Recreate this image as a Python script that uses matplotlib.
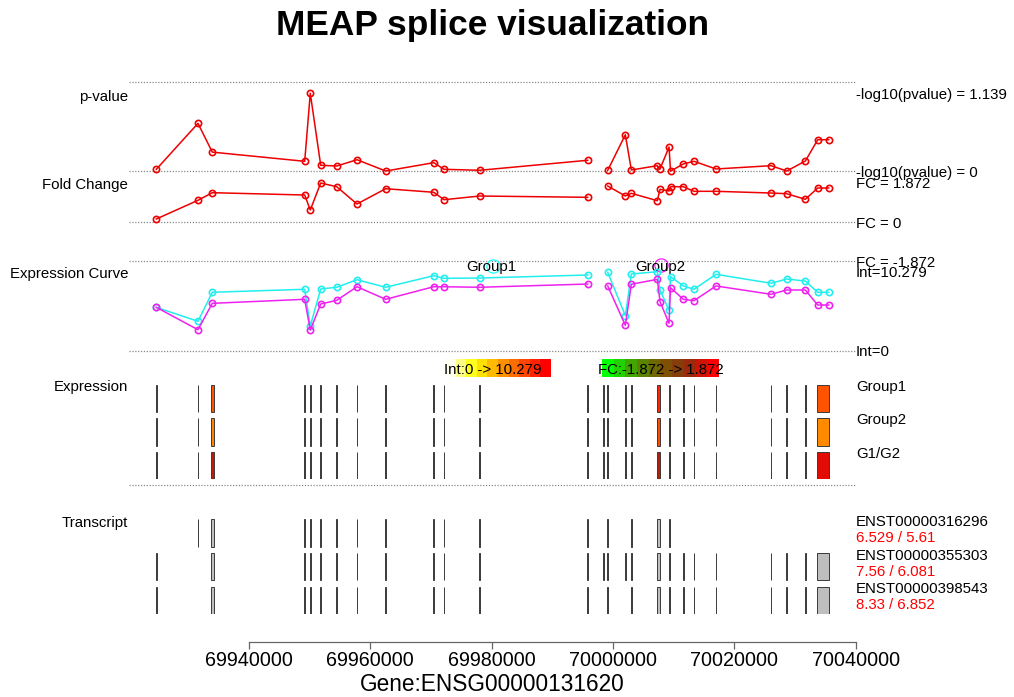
import numpy as np
import matplotlib
matplotlib.use("Agg")
import matplotlib.pyplot as plt
from matplotlib.colors import LinearSegmentedColormap, Normalize
from matplotlib.patches import Rectangle

plt.rcParams['font.family'] = ['Liberation Sans', 'DejaVu Sans']

nan = np.nan

# probe positions (bp) and per-probe values
probe_pos = [69924720, 69931590, 69933950, 69949180, 69950100, 69951820, 69954460,
             69957800, 69962530, 69970450, 69972140, 69978030, 69995830, 69998470,
             69999130, 70002030, 70003020, 70007300, 70007750, 70009230, 70009480,
             70011590, 70013350, 70016980, 70026050, 70028630, 70031700, 70033740,
             70035560]
pval = [0.029, 0.70, 0.28, 0.146, 1.139, 0.088, 0.077, 0.169, 0.004, 0.126, 0.029,
        0.015, 0.161, nan, 0.015, 0.534, 0.019, 0.082, 0.034, 0.355, 0.002, 0.107,
        0.146, 0.034, 0.082, 0.004, 0.150, 0.461, 0.461]
fc = [0.157, 1.048, 1.41, 1.30, 0.586, 1.872, 1.695, 0.871, 1.60, 1.43, 1.076, 1.252,
      1.19, nan, 1.729, 1.252, 1.381, 1.029, 1.571, 1.49, 1.695, 1.695, 1.476, 1.476,
      1.395, 1.362, 1.095, 1.633, 1.633]
expr_g1 = [5.66, 3.85, 7.61, 8.00, 3.24, 8.04, 8.26, 9.24, 8.26, 9.76, 9.42, 9.46,
           9.85, nan, 10.20, 4.58, 9.98, 10.279, 7.91, 5.28, 9.63, 8.43, 8.00, 9.94,
           8.78, 9.33, 9.07, 7.61, 7.61]
expr_g2 = [5.66, 2.76, 6.18, 6.70, 2.72, 6.09, 6.57, 8.33, 6.70, 8.33, 8.33, 8.26,
           8.68, nan, 8.43, 3.33, 8.65, 9.29, 6.39, 3.59, 8.20, 6.70, 6.52, 8.43,
           7.35, 7.91, 7.91, 5.96, 5.96]

# exons
exon_start = [69924650, 69931520, 69933750, 69949110, 69950100, 69951750, 69954390,
              69957730, 69962460, 69970380, 69972070, 69977960, 69995760, 69998400,
              69999030, 70001960, 70002950, 70007250, 70009260, 70011520, 70013280,
              70016910, 70025980, 70028560, 70031630, 70033700]
exon_end = [69924790, 69931660, 69934150, 69949250, 69950240, 69951890, 69954530,
            69957870, 69962600, 69970520, 69972210, 69978100, 69995900, 69998540,
            69999170, 70002100, 70003090, 70007800, 70009450, 70011660, 70013420,
            70017050, 70026120, 70028700, 70031770, 70035600]
exon_g1 = [5.66, 3.85, 7.61, 8.00, 3.24, 8.04, 8.26, 9.24, 8.26, 9.76, 9.42, 9.46,
           9.85, nan, 10.20, 4.58, 9.98, 9.10, 7.45, 8.43, 8.00, 9.94, 8.78, 9.33,
           9.07, 7.61]
exon_g2 = [5.66, 2.76, 6.18, 6.70, 2.72, 6.09, 6.57, 8.33, 6.70, 8.33, 8.33, 8.26,
           8.68, nan, 8.43, 3.33, 8.65, 7.84, 5.90, 6.70, 6.52, 8.43, 7.35, 7.91,
           7.91, 5.96]
exon_fc = [0.16, 1.05, 1.41, 1.30, 0.59, 1.87, 1.70, 0.87, 1.60, 1.43, 1.08, 1.25,
           1.19, nan, 1.73, 1.25, 1.38, 1.30, 1.59, 1.70, 1.48, 1.48, 1.40, 1.36,
           1.10, 1.63]

# transcripts: exon indices (0-based) and group expression
transcripts = ["ENST00000316296", "ENST00000355303", "ENST00000398543"]
tx_exons = [
    [1, 2, 3, 4, 5, 6, 7, 8, 9, 10, 11, 12, 14, 16, 17, 18],
    [0, 2, 3, 4, 5, 6, 7, 8, 9, 10, 11, 12, 13, 14, 15, 16, 17, 18, 19, 20, 21, 22, 23, 24, 25],
    [0, 2, 3, 4, 5, 6, 7, 8, 9, 10, 11, 12, 14, 16, 17, 18, 19, 20, 21, 22, 23, 24, 25],
]
tx_g1 = ["6.529", "7.56", "8.33"]
tx_g2 = ["5.61", "6.081", "6.852"]

group_names = ["Group1", "Group2", "G1/G2"]
xticks = [69940000, 69960000, 69980000, 70000000, 70020000, 70040000]
gene = "ENSG00000131620"

W, H = 1014, 697
fig = plt.figure(figsize=(W / 100, H / 100), dpi=100)

# 69940000 sits at x=249 px, 70040000 at x=855.7 px
bp_px = 100000 / 606.7
X0 = 69940000 - 249 * bp_px
X1 = X0 + W * bp_px
XL = 69940000 - 120 * bp_px  # left end of the dotted separators
XR = 70040000

def px(g):
    return (g - X0) / bp_px

# overlay in pixel coordinates for labels and layout
ov = fig.add_axes([0, 0, 1, 1])
ov.axis('off')

def panel(y_top, y_bot, v_top, v_bot):
    ax = fig.add_axes([0, 1 - y_bot / H, 1, (y_bot - y_top) / H])
    ax.set_xlim(X0, X1)
    ax.set_ylim(v_bot, v_top)
    ax.axis('off')
    return ax

fs = 10.8
VA = 'center_baseline'
sep_kw = dict(color='#888888', lw=0.9, linestyle=(0, (1, 1.3)))

# separators
for y in [82, 171.3, 222.3, 261.3, 351, 485]:
    ov.plot([px(XL), px(XR)], [y, y], **sep_kw)

ov.text(493, 25, "MEAP splice visualization", ha='center', va='center',
        fontsize=25.4, fontweight='bold')
for lab, y in [("p-value", 95), ("Fold Change", 184), ("Expression Curve", 272.7),
               ("Expression", 386), ("Transcript", 521)]:
    ov.text(128, y, lab, ha='right', va=VA, fontsize=fs)

# colour scales
int_cmap = LinearSegmentedColormap.from_list(
    'int', ['#FFFFF0', '#FFFF00', '#FFA500', '#FF5000', '#FF0000'])
fc_cmap = LinearSegmentedColormap.from_list(
    'fc', ['#00FF00', '#4C9A00', '#7A5A00', '#8B3010', '#FF0000'])
int_cmap.set_bad('#BEBEBE')
fc_cmap.set_bad('#BEBEBE')
imax = np.nanmax(expr_g1 + expr_g2)
fmax = np.nanmax(np.abs(fc))
int_norm = Normalize(0, imax)
fc_norm = Normalize(-fmax, fmax)

steps = np.linspace(0, 1, 10)[None, :]
ov.imshow(steps, cmap=int_cmap, extent=[445, 551, 377, 359], aspect='auto')
ov.imshow(steps, cmap=fc_cmap, extent=[602, 719, 377, 359], aspect='auto')
ov.text(444, 368.5, f"Int:0 -> {imax:.3f}", ha='left', va=VA, fontsize=fs)
ov.text(597.5, 368.5, f"FC:{-fmax:.3f} -> {fmax:.3f}", ha='left', va=VA, fontsize=fs)

# group legend
ov.plot([492.7], [265.7], 'o', ms=9.5, mfc='none', mec='cyan', mew=0.8)
ov.text(491.7, 266, "Group1", ha='center', va=VA, fontsize=fs)
ov.plot([660.7], [265.2], 'o', ms=9.5, mfc='none', mec='magenta', mew=0.8)
ov.text(660, 266, "Group2", ha='center', va=VA, fontsize=fs)

ov.text(491.8, 682, "Gene:" + gene, ha='center', va=VA, fontsize=16.3)
ov.set_xlim(0, W)
ov.set_ylim(H, 0)

line_kw = dict(lw=1.1, marker='o', ms=4.5, mfc='none', mew=1.2, clip_on=False)
xr = XR + 30

# p-value
pmax = np.nanmax(pval)
ax1 = panel(93.3, 171.3, pmax, 0)
ax1.plot(probe_pos, pval, color='#EE0000', **line_kw)
ax1.text(xr, pmax, f"-log10(pvalue) = {pmax:.3f}", ha='left', va=VA, fontsize=fs, clip_on=False)
ax1.text(xr, 0, "-log10(pvalue) = 0", ha='left', va=VA, fontsize=fs, clip_on=False)

# fold change
ax2 = panel(183.0, 222.3, fmax, 0)
ax2.plot(probe_pos, fc, color='#EE0000', **line_kw)
ax2.text(xr, fmax, f"FC = {fmax:.3f}", ha='left', va=VA, fontsize=fs, clip_on=False)
ax2.text(xr, 0, "FC = 0", ha='left', va=VA, fontsize=fs, clip_on=False)
ax2.text(xr, -fmax, f"FC = {-fmax:.3f}", ha='left', va=VA, fontsize=fs, clip_on=False)

# expression curves
ax3 = panel(271.7, 351, imax, 0)
ax3.plot(probe_pos, expr_g1, color='#22EEEE', **line_kw)
ax3.plot(probe_pos, expr_g2, color='#EE22EE', **line_kw)
ax3.text(xr, imax, f"Int={imax:.3f}", ha='left', va=VA, fontsize=fs, clip_on=False)
ax3.text(xr, 0, "Int=0", ha='left', va=VA, fontsize=fs, clip_on=False)

# expression heat strips
row_h = 0.82
ax4 = panel(385, 385 + 2.82 * 33.3, 0, 2.82)
row_cols = [int_cmap(int_norm(np.array(exon_g1))),
            int_cmap(int_norm(np.array(exon_g2))),
            fc_cmap(fc_norm(np.array(exon_fc)))]
for r in range(3):
    for s, e, c in zip(exon_start, exon_end, row_cols[r]):
        ax4.add_patch(Rectangle((s, r), e - s, row_h, facecolor=c,
                                edgecolor='#3a3a3a', lw=0.7))
    ax4.text(xr, r + 0.02, group_names[r], ha='left', va=VA, fontsize=fs, clip_on=False)

# transcripts
ax5 = panel(519.3, 519.3 + 2.81 * 33.6, 0, 2.81)
for r, name in enumerate(transcripts):
    for i in tx_exons[r]:
        ax5.add_patch(Rectangle((exon_start[i], r), exon_end[i] - exon_start[i], row_h,
                                facecolor='#BEBEBE', edgecolor='#3a3a3a', lw=0.7))
    ax5.text(xr, r + 0.04, name, ha='left', va=VA, fontsize=fs, clip_on=False)
    ax5.text(xr, r + 0.52, f"{tx_g1[r]} / {tx_g2[r]}", ha='left', va=VA,
             fontsize=fs, color='#FF0000', clip_on=False)

# genomic axis
axx = fig.add_axes([0, 1 - 642 / H, 1, 0.001])
axx.set_xlim(X0, X1)
axx.patch.set_alpha(0)
for sp in ['left', 'right', 'top']:
    axx.spines[sp].set_visible(False)
axx.spines['bottom'].set_bounds(xticks[0], xticks[-1])
axx.spines['bottom'].set_color('#666666')
axx.spines['bottom'].set_linewidth(0.9)
axx.set_yticks([])
axx.set_xticks(xticks)
axx.set_xticklabels([str(t) for t in xticks])
axx.tick_params(axis='x', length=5, width=0.9, color='#666666', labelsize=14.2, pad=1.5)

fig.savefig("out.png", dpi=100)
